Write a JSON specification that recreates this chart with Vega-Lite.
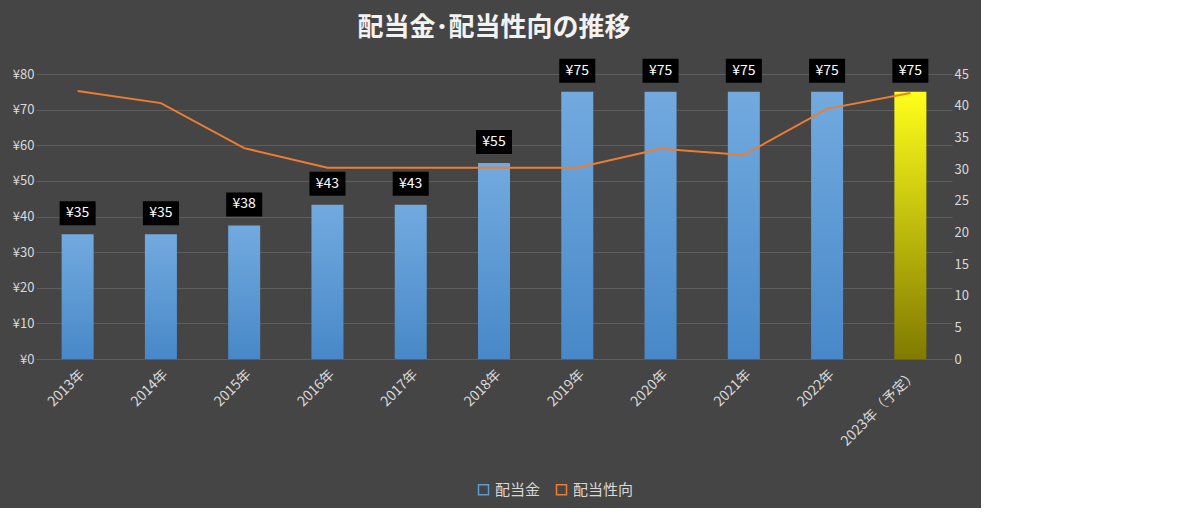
{
  "$schema": "https://vega.github.io/schema/vega-lite/v6.json",
  "width": 916,
  "height": 285,
  "background": "#454545",
  "padding": {"left": 12, "right": 12, "top": 14, "bottom": 10},
  "title": {"text": "配当金･配当性向の推移", "fontSize": 26, "fontWeight": "bold", "color": "#f2f2f2", "font": "Noto Sans CJK JP", "offset": 18},
  "config": {
    "view": {"stroke": null},
    "font": "Noto Sans CJK JP",
    "axis": {"labelColor": "#d9d9d9", "labelFontSize": 13, "domain": false, "ticks": false, "gridColor": "#5e5e5e", "titleColor": "#d9d9d9"},
    "legend": {"labelColor": "#d9d9d9", "labelFontSize": 15}
  },
  "data": {"values": [
    {"year": "2013年", "div": 35, "label": "¥35", "ratio": 42.3},
    {"year": "2014年", "div": 35, "label": "¥35", "ratio": 40.4},
    {"year": "2015年", "div": 37.5, "label": "¥38", "ratio": 33.3},
    {"year": "2016年", "div": 43.3, "label": "¥43", "ratio": 30.2},
    {"year": "2017年", "div": 43.3, "label": "¥43", "ratio": 30.2},
    {"year": "2018年", "div": 55, "label": "¥55", "ratio": 30.2},
    {"year": "2019年", "div": 75, "label": "¥75", "ratio": 30.2},
    {"year": "2020年", "div": 75, "label": "¥75", "ratio": 33.2},
    {"year": "2021年", "div": 75, "label": "¥75", "ratio": 32.2},
    {"year": "2022年", "div": 75, "label": "¥75", "ratio": 39.5},
    {"year": "2023年（予定）", "div": 75, "label": "¥75", "ratio": 42}
  ]},
  "encoding": {
    "x": {"field": "year", "type": "nominal", "sort": null, "title": null,
      "axis": {"labelAngle": -45, "labelPadding": 8, "labelFontSize": 14, "grid": false}}
  },
  "layer": [
    {
      "layer": [
        {
          "transform": [{"filter": "datum.year != '2023年（予定）'"}],
          "mark": {"type": "bar", "width": 32,
            "color": {"gradient": "linear", "x1": 0, "y1": 0, "x2": 0, "y2": 1,
              "stops": [{"offset": 0, "color": "#72aadf"}, {"offset": 1, "color": "#4888c8"}]}},
          "encoding": {
            "y": {"field": "div", "type": "quantitative", "title": null,
              "scale": {"domain": [0, 80]},
              "axis": {"format": "d", "labelExpr": "'¥' + datum.label", "tickCount": 8, "orient": "left"}}
          }
        },
        {
          "transform": [{"filter": "datum.year == '2023年（予定）'"}],
          "mark": {"type": "bar", "width": 32,
            "color": {"gradient": "linear", "x1": 0, "y1": 0, "x2": 0, "y2": 1,
              "stops": [{"offset": 0, "color": "#ffff1a"}, {"offset": 1, "color": "#807a00"}]}},
          "encoding": {"y": {"field": "div", "type": "quantitative"}}
        },
        {
          "mark": {"type": "point", "shape": "M-1.5,-1L1.5,-1L1.5,1L-1.5,1Z", "filled": true, "color": "#000000", "opacity": 1, "size": 576},
          "encoding": {
            "y": {"field": "div", "type": "quantitative"},
            "yOffset": {"value": -21}
          }
        },
        {
          "mark": {"type": "text", "color": "#ffffff", "fontSize": 14, "dy": -21},
          "encoding": {
            "y": {"field": "div", "type": "quantitative"},
            "text": {"field": "label"}
          }
        }
      ]
    },
    {
      "mark": {"type": "line", "strokeWidth": 2},
      "encoding": {
        "y": {"field": "ratio", "type": "quantitative", "title": null,
          "scale": {"domain": [0, 45]},
          "axis": {"orient": "right", "tickCount": 9, "grid": false}},
        "color": {"datum": "配当性向", "type": "nominal",
          "scale": {"domain": ["配当金", "配当性向"], "range": ["#5b9bd5", "#ed7d31"]},
          "legend": {"orient": "none", "legendX": 440, "legendY": 408, "title": null, "direction": "horizontal", "symbolType": "square", "columnPadding": 12}}
      }
    }
  ],
  "resolve": {"scale": {"y": "independent"}}
}
